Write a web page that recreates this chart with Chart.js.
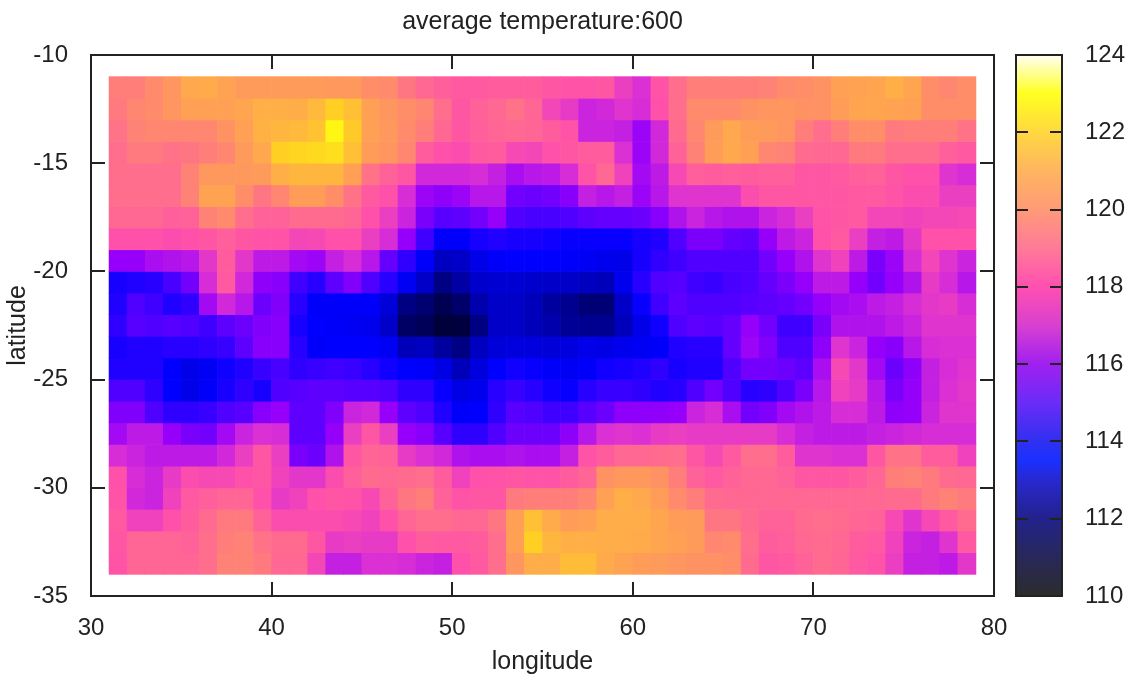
<!DOCTYPE html>
<html>
<head>
<meta charset="utf-8">
<style>
html,body{margin:0;padding:0;background:#fff;overflow:hidden}
#wrap{position:relative;width:1132px;height:679px}
#main{position:absolute;left:0;top:0}
#bar{position:absolute;left:1000px;top:0}
</style>
<script src="https://cdn.jsdelivr.net/npm/chart.js@4"></script>
</head>
<body>
<div id="wrap">
<canvas id="main" width="1132" height="679"></canvas>
<canvas id="bar" width="132" height="679"></canvas>
</div>
<script>
const titleText = "average temperature:600";
const xLabel = "longitude";
const yLabel = "latitude";
// west edge of each cell, degrees
const longitudes = [31,32,33,34,35,36,37,38,39,40,41,42,43,44,45,46,47,48,49,50,51,52,53,54,55,56,57,58,59,60,61,62,63,64,65,66,67,68,69,70,71,72,73,74,75,76,77,78];
// north edge of each row, degrees
const latitudes = [-11,-12,-13,-14,-15,-16,-17,-18,-19,-20,-21,-22,-23,-24,-25,-26,-27,-28,-29,-30,-31,-32,-33];
const temperatureRows = [
[119.4,119.4,119.7,120,120.7,120.8,120.5,120.2,120.2,120.2,120.2,120.2,120.1,120.1,119.8,119.7,119.2,118.8,118.5,118.3,118.3,118.4,118.4,118.4,118.2,118.1,118.1,118.2,117.5,117.1,118.1,119,119.4,119.4,119.4,119.4,119.5,119.7,119.8,119.9,120.4,120.5,120.6,121,120.6,119.8,119.6,119.8],
[119.3,119.6,119.7,120,120.4,120.4,120.4,120.6,121,121,120.9,121.3,122,121.5,120.4,120,119.8,119.6,119,118.2,118.6,118.8,119.1,118.7,117.7,117.4,116.8,116.9,117.2,117,118,119,119.7,119.7,119.7,119.9,120,120,119.9,119.9,120.3,120.6,120.6,120.5,120.4,119.8,119.8,119.8],
[119.1,119.5,119.6,119.6,119.6,119.6,119.9,120.4,121.1,121.2,121.3,121.6,122.8,121.8,120.4,120.1,119.7,119.4,118.8,118.2,118.5,118.7,118.8,118.7,118.4,118.1,116.8,116.8,116.7,116.1,116.9,118.9,119.6,120.2,120.7,120.3,120.2,120,119.4,119,119.4,119.8,119.8,119.3,119.4,119.4,119.4,119.1],
[119,119.3,119.3,119.1,119.2,119.4,119.6,120.2,120.7,122,122.1,122.2,122.3,121.5,120.3,120,119.6,118.4,118,117.9,118.3,118.4,117.8,117.7,118,118.2,118.4,118.4,117.1,116.1,116.9,118.6,119.5,120.3,120.7,120.4,119.6,119.5,118.9,118.8,118.8,119.3,119.3,119,119,119,118.5,118.3],
[119,119,119,119,119.5,120.1,120.1,120.1,120.2,121,121.2,121.2,121.2,120.4,119.1,118.6,118.2,116.9,116.9,116.9,117,116.7,116.3,116.5,116.6,117,118.1,118.8,117.6,116.2,116.6,117.8,118.5,118.4,118.5,118.4,118.5,118.5,118.2,118.2,118.3,118.5,118.6,118.2,118,118,117.2,117],
[119,119,119,119,119.5,120.5,120.5,119.8,119.2,119.6,120.3,120.3,119.8,119.1,118.3,118,117,116.1,115.9,116.1,116.5,116.5,115.5,115.4,115.5,115.8,116.7,116.5,116.7,116.1,116.5,117.2,117.2,117.2,117.2,117.9,118.2,118.2,118.2,118.2,118.2,118.3,118.3,118.1,117.9,117.9,117.5,117.5],
[118.8,118.8,118.8,118.5,118.6,119.5,119.7,119,118.6,118.6,118.9,118.9,118.9,118.7,118,117.5,116.8,115.6,115.1,115.2,115.5,116,115,114.9,114.9,115,115.2,115.3,115.3,115.4,115.8,116.4,116.8,116.5,116.4,116.4,116.8,117,117.5,118.1,118.2,118.3,117.7,117.7,117.6,117.7,117.7,117.8],
[118,118,118,117.9,118,118.2,118.5,118.2,118.1,118.1,117.7,117.8,118,118,117.5,117,116,114.8,113.9,113.9,114.3,114.4,114.3,114.3,114.2,114.1,114.1,114.1,114.1,114.3,114.4,115,115.6,115.6,115.3,115.2,116,116.6,116.8,118,118.3,117.5,116.7,116.6,117.3,118,118,118],
[116,116,116.3,116.4,116.5,117.3,118.4,117.3,116.6,116.6,116.2,116.1,116.7,117,116.5,115.3,114.6,113.9,112.9,113,113.6,113.9,114,114,114,113.9,113.8,113.7,113.6,114.3,114.6,114.8,115,115,115,115,115.5,116,116.4,117.2,117.6,116.6,115.6,116.1,117,117.7,117.2,116.8],
[114.3,114.4,114.5,114.9,115.5,117,118.3,116.9,115.9,115.8,114.8,114.5,115.2,115.7,115,114.5,113.8,113,112,112.5,113.1,113.2,113.2,113.1,113,113,112.9,112.8,113.7,114.5,115,115.1,114.8,114.7,114.9,115,115.3,115.6,116,116.6,116.6,116,115.5,116,116.4,117.4,117,116.5],
[114.4,115,114.8,114.4,114.6,116.2,116.9,116.5,115.4,115.7,114.5,113.9,113.9,113.9,113.9,113.3,112,111.7,111.2,111.6,112.6,113,113,112.8,112.4,112.2,111.8,111.8,113,114.1,114.8,115.2,115,115,115,115.1,115.2,115.3,115.5,116,116.2,116.3,116.6,116.7,117,117.3,117.4,117],
[114.6,115.1,115,115.1,115,114.8,115.2,115.4,115.7,115.8,114.3,114,113.9,113.8,113.7,113,111.5,111.3,110.7,110.8,112,113,113,112.8,112.6,112.3,112.2,112.2,112.8,113.6,114.2,115,115.2,115.1,115.3,116,115.5,114.8,114.8,115.6,116.4,116.4,116.4,116.6,116.8,117.2,117.2,117.2],
[114.3,114.4,114.4,114.5,114.5,114.6,114.7,115.2,115.8,115.8,114.5,113.9,114,114,114,113.8,112.8,112.9,112.4,112,112.9,113.3,113.4,113.4,113.3,113.4,113.6,113.5,113.7,113.8,113.9,114.4,114.5,114.5,115.3,116.1,115.7,115,115,115.9,117.2,116.8,116,115.8,116.5,117,117.1,117.1],
[114.4,114.4,114.4,114,113.6,113.8,114.2,114.4,114.7,114.9,114.6,114.7,114.8,114.7,114.5,114.2,114,113.9,113.5,112.8,113.4,114,114.2,114.1,113.9,113.8,113.9,114.2,114.3,114.4,114.6,114.3,114.4,114.4,115,115.5,115.5,115.4,115.2,116.3,117.8,117.3,116.2,115.4,115.9,116.7,117,117.2],
[115,115,114.6,114,113.6,113.9,114.3,114.6,114.3,115,115.1,115.2,115.2,115.1,115.1,115,114.6,114.6,114.1,113.5,113.7,114.5,114.7,114.5,114.2,114.1,114.5,114.7,114.7,114.6,114.4,114.5,115,115.5,115,114.5,114.6,115,115.6,116.5,117.6,117.4,116.5,115.6,116,116.7,117.1,117.3],
[115.7,115.7,115,114.6,114.6,114.7,115,115.1,115.8,116,115.2,115.2,115.7,116.8,116.9,116,115.2,115,114.4,113.9,114,114.6,115.1,115,114.8,114.8,115.1,115.4,115.9,115.9,115.9,116,116.8,117,116.3,115.5,115.7,116.2,116.4,116.6,117,117,116.6,115.9,116,116.8,117.2,117.2],
[116.2,116.6,116.6,116,115.6,115.5,116.2,116.8,117.1,117,115.2,115.2,116,117.5,118.2,117.5,116,115.8,115.1,114.6,114.6,115,115.4,115.4,115.4,115.9,116.5,117.1,117.2,117.1,117.4,117.5,117.4,117.4,117.4,117.4,117.4,117,116.7,116.6,116.6,116.6,116.7,116.8,116.9,117,117,117],
[117,116.8,116.6,116.6,116.6,116.6,116.9,117.5,118.2,117.5,115.6,115.4,116.4,118.2,118.7,118.6,117.4,117.1,116.9,116.4,116.3,116.3,116.4,116.3,116.3,116.7,118.1,118.4,118.8,118.8,118.9,119,118.2,117.8,118.3,119,119,118.4,117.2,117.2,117.1,117.1,118.2,119.1,119.1,118.4,118.4,117.6],
[118,117,116.8,117.4,117.9,117.8,117.8,118,118.2,117.6,117.3,117.3,117.9,118.5,118.9,118.8,118.9,119,118.4,117.6,118,118.1,118.2,118.1,118.1,118.4,118.7,119.9,120.1,120.1,119.9,119.4,118.6,118.3,118.6,118.8,118.8,118.6,118.2,118.2,118.2,118.4,118.7,119.4,119.5,119.3,118.9,118.8],
[118.1,116.9,116.8,117.6,118.3,118.5,118.7,118.7,118,117.4,117.6,118,118.2,118.1,117.8,118.6,119.2,119.4,118.6,118.1,118.2,118.2,119.3,119.4,119.4,119.4,119.6,120.4,121,120.7,120.3,119.7,119.4,118.9,118.8,118.8,118.8,118.8,118.8,118.8,118.8,118.8,118.8,118.9,118.9,119.3,119.5,119.3],
[118.3,117.6,117.6,118,118.4,118.9,119.3,119.3,118.6,117.9,117.9,117.9,117.9,117.8,117.6,118,118.7,119,119,118.8,118.8,119.2,120.4,121.5,120.8,120.3,120.4,120.9,120.9,120.9,120.6,120.3,120.2,119.2,119.2,118.9,118.6,118.6,118.9,119,118.9,118.7,118.6,117.8,117.2,117.8,118.3,118.9],
[118.2,118.7,118.7,118.7,118.6,119,119.4,119.5,119.1,118.9,118.9,118.2,117.4,117.5,117.4,117.4,118,118.4,118.3,118.3,118.4,119,120.4,122,121.2,121,121,120.9,120.9,120.8,120.6,120.4,120.2,119.6,119.7,119,118.4,118.5,118.8,118.9,118.8,118.4,118.3,117.6,116.8,116.7,117.2,118.3],
[118.1,118.7,118.7,118.7,118.7,119,119.5,119.5,119.3,118.8,118.8,117.7,116.7,116.7,117.1,117.1,117,116.8,116.7,118,118.3,119,120,120.9,120.9,121.4,121.4,120.8,120.5,120.3,120.2,120,119.9,119.9,119.8,118.9,118.2,118.3,118.6,118.9,118.7,118.3,118.1,117.5,116.7,116.7,116.6,117.3]
];
const xTicksStep = 10;
const yTicksStep = 5;
const colorTicksStep = 2;
const cellStops = [[110,[0,0,30]],[111,[0,0,70]],[112,[0,0,130]],[113,[0,0,200]],[114,[0,0,255]],[115,[80,0,255]],[116,[150,0,250]],[117,[215,45,215]],[118,[255,80,170]],[119,[255,110,140]],[120,[255,150,95]],[121,[255,175,70]],[122,[255,208,35]],[123,[255,255,15]],[124,[255,255,245]]];
const barStops = [[110,"#2c2c2c"],[111,"#28285a"],[112,"#22228c"],[113,"#2828d0"],[113.5,"#1a30ff"],[114,"#3030f0"],[115,"#6a2cf8"],[116,"#a020f0"],[117,"#d840d0"],[118,"#ff50b0"],[119,"#ff7a98"],[120,"#ff9a78"],[121,"#ffb560"],[122,"#ffd840"],[123,"#ffff20"],[124,"#fffff4"]];

function cellColor(v){
  for(let i=1;i<cellStops.length;i++){
    if(v<=cellStops[i][0]){
      const a=cellStops[i-1],b=cellStops[i],t=(v-a[0])/(b[0]-a[0]);
      const c=a[1].map((n,k)=>Math.round(n+(b[1][k]-n)*t));
      return `rgb(${c[0]},${c[1]},${c[2]})`;
    }
  }
  return "rgb(255,255,245)";
}
const ink = "#222222";
const font = "'Liberation Sans', Arial, sans-serif";
Chart.defaults.font.family = font;
Chart.defaults.color = "#222";
Chart.defaults.animation = false;

const datasets = latitudes.map((lat,r)=>({
  data: longitudes.map(lon=>({x:lon+0.5,y:[lat-1,lat]})),
  backgroundColor: temperatureRows[r].map(cellColor),
  categoryPercentage:1,
  barPercentage:1,
  grouped:false,
  borderWidth:0
}));
function fixed(prop,val){return s=>{s[prop]=val;};}
const gridOpts = {drawOnChartArea:false,tickLength:-14,color:ink,lineWidth:2};
const borderOpts = {color:ink,width:2};

new Chart(document.getElementById("main"),{
  type:"bar",
  data:{datasets},
  options:{
    responsive:false,
    layout:{padding:0},
    plugins:{
      legend:{display:false},
      tooltip:{enabled:false},
      title:{display:true,text:titleText,fullSize:false,color:"#222",font:{size:25,weight:"normal",family:font},padding:{top:7,bottom:0}}
    },
    scales:{
      x:{type:"linear",position:"bottom",min:30,max:80,offset:false,
        grid:{...gridOpts,offset:false},border:borderOpts,
        ticks:{stepSize:xTicksStep,padding:32,maxRotation:0,font:{size:24},color:"#222"},
        title:{display:true,text:xLabel,font:{size:25},color:"#222",padding:{top:8,bottom:2}},
        afterFit:fixed("height",83)},
      y:{type:"linear",position:"left",min:-35,max:-10,
        grid:gridOpts,border:borderOpts,
        ticks:{stepSize:yTicksStep,padding:37,font:{size:24},color:"#222"},
        title:{display:true,text:yLabel,font:{size:25},color:"#222",padding:{top:3,bottom:0}},
        afterFit:fixed("width",91)},
      x2:{type:"linear",position:"top",min:30,max:80,offset:false,
        grid:{...gridOpts,offset:false},border:borderOpts,
        ticks:{stepSize:xTicksStep,display:false},
        afterFit:fixed("height",18)},
      y2:{type:"linear",position:"right",min:-35,max:-10,
        grid:gridOpts,border:borderOpts,
        ticks:{stepSize:yTicksStep,display:false},
        afterFit:fixed("width",138)}
    }
  }
});

function rampFill(ctx){
  const c=ctx.chart;
  if(!c.chartArea) return barStops[0][1];
  const s=c.scales.y, top=s.getPixelForValue(124), bot=s.getPixelForValue(110);
  const g=c.ctx.createLinearGradient(0,bot,0,top);
  barStops.forEach(([v,col])=>g.addColorStop((v-110)/14,col));
  return g;
}
const barGrid = {drawOnChartArea:false,tickLength:-12,color:ink,lineWidth:2,z:1};
const barBorder = {color:ink,width:2,z:1};
new Chart(document.getElementById("bar"),{
  type:"bar",
  data:{labels:[""],datasets:[{data:[[110,124]],backgroundColor:rampFill,categoryPercentage:1,barPercentage:1,borderWidth:0}]},
  options:{
    responsive:false,
    layout:{padding:{top:55,bottom:83,left:0,right:0}},
    plugins:{legend:{display:false},tooltip:{enabled:false}},
    scales:{
      x:{type:"category",display:true,position:"top",grid:{display:false,drawTicks:false},border:barBorder,ticks:{display:false},afterFit:fixed("height",0)},
      xb:{type:"category",labels:[""],position:"bottom",grid:{display:false,drawTicks:false},border:barBorder,ticks:{display:false},afterFit:fixed("height",0)},
      y:{type:"linear",position:"right",min:110,max:124,
        grid:barGrid,border:barBorder,
        ticks:{stepSize:colorTicksStep,padding:35,font:{size:24},color:"#222"},
        afterFit:fixed("width",70)},
      yl:{type:"linear",position:"left",min:110,max:124,
        grid:barGrid,border:barBorder,
        ticks:{stepSize:colorTicksStep,display:false},
        afterFit:fixed("width",16)}
    }
  }
});
</script>
</body>
</html>
